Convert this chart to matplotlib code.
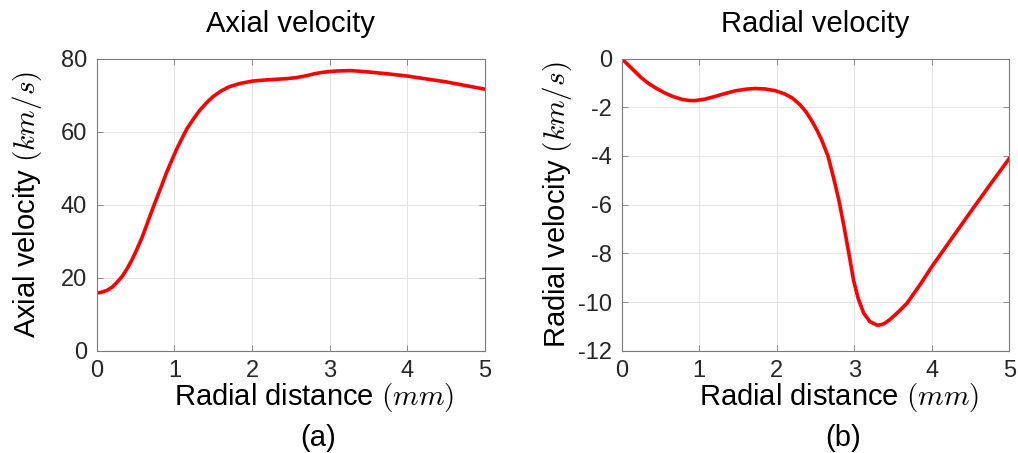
import matplotlib
matplotlib.use("Agg")
import matplotlib.pyplot as plt

plt.rcParams['font.family'] = ['Liberation Sans', 'DejaVu Sans']
plt.rcParams['mathtext.fontset'] = 'cm'
plt.rcParams['axes.unicode_minus'] = False

# values
axial_r = [0.0, 0.06, 0.13, 0.2, 0.26, 0.33, 0.39, 0.45, 0.51, 0.58, 0.64, 0.7, 0.77,
           0.84, 0.90, 0.97, 1.03, 1.1, 1.16, 1.25, 1.33, 1.42, 1.50, 1.6, 1.71, 1.85,
           2.0, 2.15, 2.3, 2.45, 2.58, 2.7, 2.8, 2.9, 3.0, 3.1, 3.27, 3.4, 3.51, 3.75,
           4.0, 4.25, 4.5, 4.75, 5.0]
axial_v = [15.8, 16.0, 16.5, 17.4, 18.7, 20.4, 22.4, 24.7, 27.4, 30.8, 34.2, 37.7, 41.6,
           45.4, 48.8, 52.3, 55.2, 58.2, 60.7, 63.6, 65.9, 68.0, 69.6, 71.1, 72.3, 73.2,
           73.8, 74.1, 74.3, 74.5, 74.8, 75.3, 75.8, 76.2, 76.45, 76.6, 76.7, 76.5, 76.3,
           75.8, 75.2, 74.4, 73.6, 72.6, 71.6]

radial_r = [0.0, 0.08, 0.17, 0.25, 0.34, 0.45, 0.56, 0.66, 0.77, 0.86, 0.94, 1.07, 1.20,
            1.33, 1.46, 1.6, 1.72, 1.85, 1.98, 2.1, 2.2, 2.3, 2.38, 2.45, 2.52, 2.58,
            2.66, 2.73, 2.8, 2.86, 2.93, 2.99, 3.05, 3.12, 3.2, 3.3, 3.38, 3.46, 3.57,
            3.68, 3.85, 4.0, 4.27, 4.54, 4.77, 5.0]
radial_v = [0.0, -0.25, -0.53, -0.78, -1.01, -1.23, -1.42, -1.56, -1.67, -1.72, -1.73,
            -1.67, -1.56, -1.44, -1.33, -1.26, -1.23, -1.25, -1.32, -1.45, -1.62, -1.9,
            -2.2, -2.55, -2.95, -3.35, -4.0, -4.86, -5.8, -6.77, -8.0, -9.1, -9.85, -10.45,
            -10.8, -10.96, -10.9, -10.72, -10.4, -10.05, -9.28, -8.55, -7.33, -6.12, -5.1,
            -4.1]

x_ticks = [0, 1, 2, 3, 4, 5]

fig = plt.figure(figsize=(10.18, 4.53), dpi=100)

panels = [
    ([0.095, 0.2258, 0.3814, 0.645], axial_r, axial_v, "Axial velocity",
     "Axial velocity $(km/s)$", (0, 80), [0, 20, 40, 60, 80], "(a)", 12),
    ([0.6107, 0.2258, 0.3808, 0.645], radial_r, radial_v, "Radial velocity",
     "Radial velocity $(km/s)$", (-12, 0), [-12, -10, -8, -6, -4, -2, 0], "(b)", 3),
]

for rect, xs, ys, title, ylab, ylim, yticks, tag, ypad in panels:
    ax = fig.add_axes(rect)
    ax.plot(xs, ys, color="#ff0000", lw=2.6, solid_capstyle="round",
            solid_joinstyle="round")
    ax.set_xlim(0, 5)
    ax.set_ylim(*ylim)
    ax.set_xticks(x_ticks)
    ax.set_yticks(yticks)
    ax.grid(True, color="#e3e3e3", lw=0.7)
    ax.set_axisbelow(True)
    for s in ax.spines.values():
        s.set_color("#7a7a7a")
        s.set_linewidth(0.8)
    ax.tick_params(direction="in", length=4, width=0.6, color="#7a7a7a",
                   top=True, right=True, labelsize=17, labelcolor="#262626", pad=7)
    ax.set_title(title, fontsize=21, pad=19)
    ax.set_ylabel(ylab, fontsize=21, labelpad=ypad)
    ax.set_xlabel("Radial distance $(mm)$", fontsize=21)
    ax.xaxis.set_label_coords(0.56, -0.105, transform=ax.transAxes)
    ax.xaxis.label.set_va("top")
    pos = ax.get_position()
    fig.text(pos.x0 + 0.57 * pos.width, 0.033, tag, fontsize=21, ha="center", va="center")

fig.savefig("out.png", dpi=100)
